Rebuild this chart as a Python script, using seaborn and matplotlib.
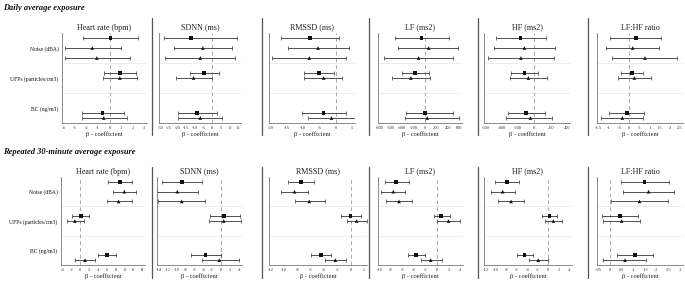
import numpy as np
import pandas as pd
import matplotlib
matplotlib.use("Agg")
import matplotlib.pyplot as plt
from matplotlib.lines import Line2D
import seaborn as sns

# ------------------------------------------------------------------
# data: [estimate, lower CI, upper CI] per row
# rows: Noise x3, UFPs x2, BC x2
# ------------------------------------------------------------------
row_exposure = ["Noise (dBA)"] * 3 + ["UFPs (particles/cm3)"] * 2 + ["BC (ng/m3)"] * 2
row_model = ["Model 1", "Model 2", "Model 3", "Model 1", "Model 2", "Model 1", "Model 2"]
exposures = ["Noise (dBA)", "UFPs (particles/cm3)", "BC (ng/m3)"]
outcomes = ["Heart rate (bpm)", "SDNN (ms)", "RMSSD (ms)", "LF (ms2)", "HF (ms2)", "LF:HF ratio"]

# daily average exposure
daily_hr = [[0.1, -2.3, 2.5], [-1.5, -3.9, 1.0], [-1.1, -3.9, 1.8],
            [0.9, -0.5, 2.3], [0.9, -0.6, 2.4], [-0.6, -2.4, 1.3], [-0.5, -2.4, 1.5]]
daily_sdnn = [[-12.1, -27.9, 14.4], [-5.4, -22.3, 11.4], [-6.9, -27.1, 13.1],
              [-4.8, -12.7, 3.7], [-10.8, -20.8, 0.0], [-8.7, -19.8, 2.7], [-6.9, -19.8, 5.8]]
daily_rmssd = [[-7.9, -16.7, 1.0], [-5.4, -14.7, 4.0], [-8.1, -19.6, 3.2],
               [-5.1, -9.6, -0.6], [-3.7, -9.7, 2.0], [-3.7, -10.4, 3.1], [-1.3, -8.4, 6.1]]
daily_lf = [[-59, -524, 418], [65, -476, 588], [-112, -712, 500],
            [-176, -412, 70], [-247, -576, 82], [0, -335, 500], [41, -353, 594]]
daily_hf = [[-169, -477, 148], [-123, -490, 251], [-165, -564, 243],
            [-123, -288, 41], [-74, -300, 156], [-103, -329, 128], [-49, -354, 218]]
daily_ratio = [[0.33, -0.93, 1.58], [0.18, -1.11, 1.47], [0.78, -0.82, 2.37],
               [0.13, -0.42, 0.70], [0.26, -0.54, 1.06], [-0.11, -0.98, 0.75], [-0.33, -1.36, 0.70]]

# repeated 30-minute average exposure
rep_hr = [[9.0, 6.4, 11.7], [10.0, 7.4, 12.7], [8.7, 6.0, 11.7],
          [0.15, -1.9, 2.1], [-1.2, -2.9, 0.8], [6.0, 4.0, 8.0], [1.1, -1.1, 3.4]]
rep_sdnn = [[-8.8, -13.2, -4.2], [-9.8, -14.4, -5.2], [-8.8, -14.1, -3.5],
            [0.6, -2.4, 4.2], [0.6, -2.6, 4.4], [-3.5, -6.8, 0.0], [-0.4, -4.3, 4.0]]
rep_rmssd = [[-7.4, -9.4, -5.5], [-8.4, -10.5, -6.4], [-6.2, -8.4, -3.8],
             [0.0, -1.5, 1.5], [0.9, -0.6, 2.5], [-4.4, -5.9, -2.9], [-2.3, -3.9, -0.7]]
rep_lf = [[-7.1, -9.1, -4.9], [-7.6, -9.7, -5.6], [-6.6, -8.9, -4.3],
          [0.75, -0.6, 2.2], [2.0, 0.06, 4.0], [-3.7, -5.1, -2.1], [-1.1, -2.8, 0.8]]
rep_hf = [[-7.9, -10.1, -5.6], [-8.7, -11.0, -6.4], [-7.1, -9.7, -4.7],
          [0.26, -1.2, 1.7], [1.0, -0.6, 2.6], [-4.5, -6.0, -2.9], [-1.9, -3.6, 0.0]]
rep_ratio = [[0.147, 0.045, 0.253], [0.165, 0.056, 0.273], [0.126, 0.004, 0.247],
             [0.042, -0.033, 0.118], [0.049, -0.030, 0.129], [0.107, 0.030, 0.184], [0.064, -0.030, 0.155]]

# x ticks per panel
daily_ticks = [np.arange(-4, 4, 1), np.arange(-30, 20, 5), np.arange(-20, 10, 5),
               np.arange(-800, 800, 200), np.arange(-600, 600, 200), np.arange(-1.5, 3.0, 0.5)]
rep_ticks = [np.arange(-4, 16, 2), np.arange(-14, 6, 2), np.arange(-12, 4, 2),
             np.arange(-10, 6, 2), np.arange(-12, 6, 2), np.arange(-0.05, 0.35, 0.05)]

daily = [daily_hr, daily_sdnn, daily_rmssd, daily_lf, daily_hf, daily_ratio]
rep = [rep_hr, rep_sdnn, rep_rmssd, rep_lf, rep_hf, rep_ratio]

# ------------------------------------------------------------------
# layout (pixels)
# ------------------------------------------------------------------
W, H = 685, 283
FONT = ["Liberation Serif", "DejaVu Serif"]
daily_extent = [(62, 147), (159, 241), (269, 355), (378, 462), (484, 570), (597, 683)]
rep_extent = [(61, 145), (157, 242), (269, 367), (378, 463), (484, 572), (597, 683)]
separators = [152, 262, 369, 478, 588]
slot_offsets = {"Noise (dBA)": [-1 / 3, 0, 1 / 3],
                "UFPs (particles/cm3)": [-1 / 6, 0],
                "BC (ng/m3)": [1 / 6, 1 / 3]}
marker_map = {"Model 1": "s", "Model 2": "^", "Model 3": "^"}

sns.set_theme(style="white")
plt.rcParams["font.family"] = FONT

fig = plt.figure(figsize=(W / 100, H / 100), dpi=100)


def tick_fmt(v):
    s = f"{round(v, 3):g}"
    if s.startswith("0."):
        s = s[1:]
    elif s.startswith("-0."):
        s = "-" + s[2:]
    return s


def make_frame(values):
    df = pd.DataFrame(values, columns=["est", "lo", "hi"])
    df["exposure"] = row_exposure
    df["model"] = row_model
    ys = []
    for exp in exposures:
        n = (df["exposure"] == exp).sum()
        ys += [exposures.index(exp) + o for o in slot_offsets[exp][:n]]
    df["y"] = ys
    return df


def draw_panel(ax, values, ticks, title, first, width_px):
    df = make_frame(values)
    ax.axvline(0, color="#a8a8a8", lw=0.7, ls=(0, (4, 3)), zorder=1)
    for yy in [0.5, 1.5]:
        ax.axhline(yy, color="#ebebeb", lw=0.6, zorder=0)
    ax.errorbar(df["est"], df["y"], xerr=[df["est"] - df["lo"], df["hi"] - df["est"]],
                fmt="none", ecolor="#333333", elinewidth=0.6, capsize=1.3, capthick=0.5, zorder=2)
    sns.scatterplot(data=df, x="est", y="y", style="model", markers=marker_map,
                    color="#111111", s=7, linewidth=0, legend=False, ax=ax, zorder=3)
    # first tick ~1.5px in from the axis start, last tick ~3px before its end
    per_px = (ticks[-1] - ticks[0]) / (width_px - 4.5)
    ax.set_xlim(ticks[0] - 1.5 * per_px, ticks[-1] + 3 * per_px)
    ax.set_xticks(ticks)
    ax.set_xticklabels([tick_fmt(t) for t in ticks], fontsize=3.2)
    ax.set_ylim(2.5, -0.5)
    ax.set_yticks([0, 1, 2])
    if first:
        ax.set_yticklabels(exposures, fontsize=4.1)
    else:
        ax.set_yticklabels([])
    ax.tick_params(axis="both", length=1.5, width=0.4, pad=1, colors="#555555")
    ax.tick_params(axis="y", labelcolor="#111111")
    ax.tick_params(axis="x", labelcolor="#333333")
    for side in ["top", "right"]:
        ax.spines[side].set_visible(False)
    for side in ["left", "bottom"]:
        ax.spines[side].set_color("#777777")
        ax.spines[side].set_linewidth(0.6)
    ax.set_xlabel("β - coefficient", fontsize=4.7, labelpad=0.5, color="#222222")
    ax.set_ylabel("")
    ax.set_title(title, fontsize=5.9, pad=2.5, color="#222222")


rows = [("Daily average exposure", daily, daily_ticks, daily_extent, 8, 33, 123, 18, 135),
        ("Repeated 30-minute average exposure", rep, rep_ticks, rep_extent, 152, 177, 265, 167, 278)]

for header, data, ticks, extent, ty, y0, y1, s0, s1 in rows:
    fig.text(3 / W, 1 - ty / H, header, fontsize=6, fontweight="bold", style="italic",
             va="center", ha="left", color="#111111")
    for i, (vals, tk, title, (x0, x1)) in enumerate(zip(data, ticks, outcomes, extent)):
        ax = fig.add_axes([x0 / W, 1 - y1 / H, (x1 - x0) / W, (y1 - y0) / H])
        draw_panel(ax, vals, tk, title, i == 0, x1 - x0)
    for sx in separators:
        fig.add_artist(Line2D([sx / W, sx / W], [1 - s0 / H, 1 - s1 / H], color="#555555", lw=0.9))

fig.savefig("out.png", dpi=100, facecolor="white")
